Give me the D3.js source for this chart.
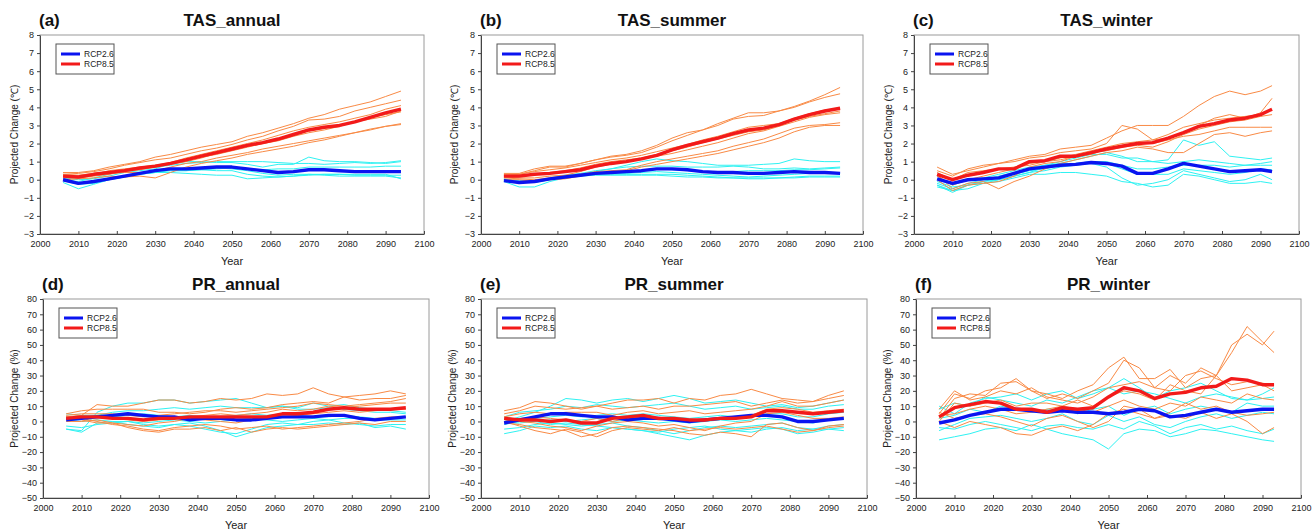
<!DOCTYPE html>
<html><head><meta charset="utf-8">
<script src="https://cdn.jsdelivr.net/npm/d3@7"></script>
<style>body{margin:0;background:#fff}svg{display:block}text{font-family:Arial,"Liberation Sans",sans-serif}</style>
</head><body>
<script>
// ---------- DATA ----------
const yearsFull = [2006,2010,2014,2018,2022,2026,2030,2034,2038,2042,2046,2050,2054,2058,2062,2066,2070,2074,2078,2082,2086,2090,2094];
const yearsWinter = [2006,2010,2014,2018,2022,2026,2030,2034,2038,2042,2046,2050,2054,2058,2062,2066,2070,2074,2078,2082,2086,2090,2093];
const xTicks = [2000,2010,2020,2030,2040,2050,2060,2070,2080,2090,2100];
const tasTicks = [-3,-2,-1,0,1,2,3,4,5,6,7,8];
const prTicks = [-50,-40,-30,-20,-10,0,10,20,30,40,50,60,70,80];
const legendLabels = ["RCP2.6","RCP8.5"];

// (a) TAS_annual
const tasAnnualMean26 = [0,-0.2,-0.1,0.05,0.2,0.35,0.5,0.6,0.6,0.65,0.7,0.7,0.6,0.5,0.4,0.45,0.55,0.55,0.5,0.45,0.45,0.45,0.45];
const tasAnnualMean85 = [0.2,0.15,0.3,0.4,0.5,0.65,0.75,0.9,1.1,1.3,1.5,1.7,1.9,2.05,2.25,2.5,2.75,2.9,3.0,3.2,3.45,3.7,3.9];
const tasAnnual26 = [
 [-0.15,-0.5,-0.25,0.0,0.15,0.3,0.4,0.55,0.6,0.6,0.65,0.6,0.5,0.35,0.25,0.3,0.3,0.25,0.2,0.2,0.2,0.2,0.1],
 [0.0,-0.1,0.1,0.3,0.5,0.6,0.7,0.8,0.9,0.95,1.0,1.0,1.0,1.0,0.95,0.9,0.9,0.85,0.9,0.95,0.9,0.95,1.05],
 [0.1,0.0,0.05,0.2,0.4,0.5,0.6,0.9,1.0,1.0,0.95,0.95,0.85,0.7,0.85,0.85,1.25,1.05,1.0,1.0,0.95,0.9,1.0],
 [0.0,-0.2,-0.1,0.1,0.2,0.35,0.4,0.5,0.5,0.55,0.6,0.65,0.6,0.55,0.6,0.6,0.7,0.7,0.7,0.7,0.7,0.75,0.75],
 [0.05,-0.15,-0.15,0.05,0.2,0.3,0.4,0.4,0.35,0.3,0.25,0.25,0.05,0.1,0.15,0.2,0.25,0.3,0.3,0.25,0.25,0.25,0.25],
 [-0.05,-0.25,-0.2,0.0,0.15,0.35,0.5,0.5,0.5,0.55,0.5,0.5,0.3,0.2,0.15,0.2,0.3,0.3,0.3,0.3,0.3,0.3,0.05]
];
const tasAnnual85 = [
 [0.4,0.4,0.5,0.7,0.85,1.0,1.25,1.4,1.6,1.8,1.95,2.1,2.4,2.6,2.85,3.1,3.4,3.6,3.9,4.1,4.3,4.6,4.9],
 [0.3,0.35,0.45,0.6,0.8,0.95,1.1,1.2,1.4,1.6,1.75,1.95,2.2,2.4,2.7,2.95,3.3,3.35,3.5,3.8,4.0,4.2,4.4],
 [0.2,0.2,0.3,0.5,0.6,0.7,0.8,0.95,1.2,1.4,1.6,1.8,2.0,2.2,2.45,2.7,2.9,3.05,3.2,3.4,3.6,3.9,4.1],
 [0.3,0.25,0.35,0.45,0.55,0.6,0.75,0.9,1.1,1.25,1.4,1.6,1.8,2.0,2.2,2.45,2.7,2.85,3.0,3.2,3.45,3.6,3.75],
 [0.1,0.1,0.2,0.3,0.45,0.55,0.7,0.85,1.0,1.2,1.45,1.65,1.85,2.0,2.15,2.4,2.6,2.75,2.95,3.2,3.35,3.5,3.8],
 [0.2,0.1,0.25,0.35,0.4,0.4,0.5,0.7,0.9,1.0,1.2,1.35,1.5,1.7,1.85,2.0,2.15,2.3,2.45,2.6,2.75,2.95,3.1],
 [0.0,0.05,0.1,0.2,0.15,0.2,0.1,0.4,0.7,0.9,1.05,1.2,1.4,1.55,1.7,1.85,2.05,2.2,2.4,2.6,2.8,2.95,3.05]
];

// (b) TAS_summer
const tasSummerMean26 = [-0.05,-0.15,-0.1,0.05,0.15,0.25,0.35,0.4,0.45,0.5,0.6,0.6,0.55,0.45,0.4,0.4,0.35,0.35,0.4,0.45,0.4,0.4,0.35];
const tasSummerMean85 = [0.2,0.2,0.3,0.35,0.45,0.55,0.75,0.9,1.0,1.15,1.35,1.65,1.9,2.1,2.3,2.55,2.75,2.85,3.05,3.35,3.6,3.8,3.95];
const tasSummer26 = [
 [-0.1,-0.4,-0.4,-0.1,0.1,0.3,0.45,0.6,0.8,1.0,1.15,1.05,1.0,0.9,0.8,0.8,0.8,0.85,0.9,1.15,1.05,1.0,1.0],
 [0.0,-0.2,-0.1,0.1,0.25,0.35,0.5,0.6,0.7,0.75,0.75,0.75,0.7,0.7,0.7,0.75,0.7,0.6,0.6,0.65,0.6,0.65,0.7],
 [0.05,-0.1,-0.15,0.0,0.2,0.3,0.35,0.45,0.45,0.5,0.6,0.55,0.5,0.45,0.4,0.45,0.5,0.5,0.5,0.55,0.55,0.6,0.65],
 [0.0,-0.1,-0.1,0.05,0.15,0.25,0.3,0.35,0.35,0.4,0.45,0.4,0.35,0.3,0.25,0.2,0.15,0.2,0.25,0.3,0.35,0.35,0.35],
 [-0.05,-0.15,-0.15,0.0,0.15,0.25,0.3,0.3,0.3,0.3,0.3,0.3,0.25,0.2,0.15,0.1,0.05,0.05,0.1,0.15,0.2,0.2,0.2],
 [0.0,-0.05,-0.05,0.05,0.15,0.2,0.25,0.25,0.25,0.25,0.25,0.2,0.15,0.15,0.1,0.1,0.1,0.1,0.1,0.1,0.15,0.15,0.15]
];
const tasSummer85 = [
 [0.35,0.35,0.6,0.75,0.75,0.9,1.1,1.3,1.4,1.6,1.9,2.3,2.6,2.75,3.1,3.4,3.7,3.7,3.8,4.05,4.35,4.7,5.1],
 [0.3,0.3,0.5,0.7,0.7,0.9,1.1,1.25,1.35,1.5,1.8,2.15,2.45,2.75,3.0,3.35,3.5,3.55,3.8,4.0,4.3,4.55,4.75],
 [0.25,0.3,0.45,0.55,0.65,0.8,0.95,1.1,1.2,1.35,1.55,1.75,1.95,2.2,2.4,2.65,2.9,3.0,3.1,3.4,3.65,3.85,3.95],
 [0.2,0.25,0.3,0.4,0.5,0.65,0.85,1.0,1.1,1.2,1.4,1.6,1.8,2.05,2.25,2.45,2.65,2.75,3.0,3.3,3.5,3.65,3.8],
 [0.15,0.1,0.1,0.2,0.25,0.45,0.7,0.85,1.0,1.15,1.3,1.45,1.65,1.85,2.05,2.3,2.55,2.7,2.95,3.2,3.45,3.6,3.7],
 [0.1,0.05,0.0,0.1,0.2,0.3,0.45,0.5,0.55,0.8,1.0,1.15,1.3,1.45,1.6,1.85,2.05,2.25,2.55,2.85,3.0,3.05,3.15],
 [0.0,0.0,-0.1,0.0,0.05,0.2,0.35,0.45,0.5,0.7,0.85,1.0,1.15,1.3,1.45,1.65,1.85,2.05,2.3,2.65,2.9,3.0,3.0]
];

// (c) TAS_winter
const tasWinterMean26 = [0.05,-0.2,0.0,0.05,0.1,0.35,0.6,0.7,0.8,0.85,0.95,0.9,0.75,0.35,0.35,0.6,0.9,0.75,0.6,0.45,0.5,0.55,0.45];
const tasWinterMean85 = [0.3,0.0,0.25,0.4,0.6,0.6,1.0,1.05,1.3,1.3,1.5,1.7,1.85,2.0,2.05,2.3,2.6,2.95,3.1,3.3,3.4,3.6,3.9];
const tasWinter26 = [
 [-0.3,-0.7,-0.3,-0.1,0.0,0.2,0.4,0.7,0.9,1.1,1.3,1.5,1.3,1.0,1.0,1.1,2.2,1.9,2.1,1.3,1.2,1.1,1.2],
 [-0.2,-0.5,-0.2,0.0,0.2,0.4,0.6,0.8,1.0,1.2,1.4,1.4,1.2,1.2,1.0,0.9,1.0,1.1,1.0,0.9,0.8,0.9,1.0],
 [-0.3,-0.6,-0.3,-0.1,0.1,0.3,0.5,0.6,0.8,0.9,1.0,1.0,0.8,0.6,0.6,0.7,0.8,0.8,0.8,0.7,0.8,0.8,0.8],
 [0.2,-0.3,0.0,0.1,0.3,0.5,0.7,0.8,0.9,0.9,1.0,0.9,0.6,0.3,0.3,0.3,0.6,0.5,0.4,0.3,0.4,0.6,0.55],
 [-0.1,-0.4,-0.3,-0.2,0.0,0.2,0.4,0.5,0.7,0.8,0.9,0.7,0.1,-0.3,-0.2,0.0,0.5,0.3,0.1,-0.1,0.0,0.3,0.0],
 [-0.4,-0.6,-0.5,-0.2,-0.1,0.1,0.3,0.3,0.4,0.4,0.3,0.2,-0.1,-0.2,-0.4,-0.3,0.3,0.2,0.0,-0.2,-0.2,-0.1,-0.2]
];
const tasWinter85 = [
 [0.7,0.3,0.5,0.7,0.9,1.1,1.3,1.4,1.7,1.8,1.9,2.3,2.7,3.0,3.0,3.0,3.5,4.1,4.6,4.9,4.7,4.9,5.2],
 [0.5,0.2,0.6,0.8,0.9,1.0,1.2,1.3,1.5,1.6,1.7,2.0,3.0,2.8,2.2,2.3,2.6,3.0,3.4,3.6,3.4,3.7,4.5],
 [0.4,0.0,0.4,0.5,0.6,0.7,0.8,1.0,1.2,1.4,1.6,1.8,2.0,2.1,2.2,2.5,2.9,3.1,3.3,3.4,3.5,3.6,3.9],
 [0.2,-0.3,0.0,0.2,0.4,0.6,0.9,1.0,1.1,1.3,1.5,1.6,1.8,1.9,1.8,2.1,2.5,2.8,3.0,3.2,3.3,3.5,3.6],
 [0.0,-0.6,-0.3,-0.2,-0.1,0.2,0.7,0.9,1.0,1.3,1.4,1.7,1.9,2.0,2.0,2.2,2.4,2.5,2.7,2.9,2.9,2.9,2.9],
 [0.3,-0.5,-0.2,-0.1,-0.5,-0.1,0.2,0.6,0.9,1.1,1.3,1.5,1.6,1.8,1.7,1.5,1.5,2.0,2.5,2.6,2.4,2.6,2.7]
];

// (d) PR_annual
const prAnnualMean26 = [1,2,3,4,5,4,3,3,1,2,2,1,1,2,3,3,3,4,4,2,1,2,3];
const prAnnualMean85 = [2,3,3,2,2,1,2,2,3,3,3,3,3,3,5,5,6,8,9,8,8,8,9];
const prAnnual26 = [
 [-5,-6,6,10,12,12,14,14,12,13,14,15,12,9,10,9,12,10,11,9,8,7,6],
 [5,4,4,6,7,7,8,9,8,9,10,9,9,9,10,8,8,9,8,7,6,6,5],
 [3,2,3,3,4,5,4,3,4,3,3,4,5,4,5,4,3,3,4,3,2,2,3],
 [1,0,1,0,0,-1,0,1,0,-1,0,1,2,1,0,1,2,1,2,2,1,1,1],
 [-3,-4,-2,-1,0,-2,-3,-2,-3,-5,-7,-8,-5,-2,-1,-2,0,1,-1,-2,-3,-2,-2],
 [-5,-7,-1,0,-2,-3,-4,-2,-1,-3,-6,-10,-7,-4,-3,-2,-2,-1,-2,-1,-4,-3,-5]
];
const prAnnual85 = [
 [3,4,11,10,10,12,14,14,12,13,15,14,15,18,17,18,22,18,16,17,18,20,18],
 [5,7,8,8,8,8,6,6,5,6,8,9,8,9,11,12,13,12,16,14,15,15,17],
 [4,5,5,5,4,3,4,5,6,7,7,6,7,8,9,10,12,11,10,11,12,13,15],
 [2,3,3,2,1,0,1,2,3,4,5,4,5,6,8,7,8,10,9,10,11,12,12],
 [0,0,1,-1,-2,-3,-1,0,2,1,0,-1,1,2,3,4,5,6,7,6,7,8,8],
 [1,2,0,-2,-3,-5,-6,-4,-3,-2,-3,-5,-4,-3,-5,-4,-3,-2,-1,0,2,3,3],
 [3,1,-1,-1,-4,-6,-7,-5,-5,-4,-6,-4,-7,-5,-4,-5,-4,-3,-2,-1,-2,0,0]
];

// (e) PR_summer
const prSummerMean26 = [-1,1,3,5,5,4,3,3,1,2,2,1,0,1,2,3,4,4,3,0,0,1,2];
const prSummerMean85 = [2,1,1,0,1,-1,-1,2,3,4,2,2,1,1,2,2,3,7,7,6,5,6,7];
const prSummer26 = [
 [0,3,6,10,15,14,12,14,15,13,15,17,15,12,13,14,12,10,11,9,10,12,14],
 [3,6,7,8,10,9,11,10,9,10,11,12,10,8,9,10,8,9,10,8,8,10,11],
 [-2,0,2,3,4,3,4,5,4,5,4,3,2,3,4,3,4,5,5,3,3,5,6],
 [-1,-1,0,1,0,1,2,0,1,0,-1,0,-1,0,1,0,1,2,1,0,-1,1,2],
 [-5,-4,-2,-1,-2,-3,-2,-1,-3,-4,-6,-8,-6,-4,-3,-4,-3,-2,-1,-4,-5,-3,-2],
 [-8,-6,-3,-4,-3,-5,-6,-4,-5,-6,-8,-10,-12,-9,-7,-6,-5,-4,-5,-8,-7,-5,-4],
 [3,1,0,-2,-1,-2,-3,-4,-5,-6,-7,-5,-4,-3,-5,-6,-7,-5,-4,-6,-5,-5,-6]
];
const prSummer85 = [
 [7,9,13,12,10,8,10,12,14,14,15,12,15,14,17,18,21,18,15,14,13,17,20],
 [5,7,10,9,8,9,10,8,9,10,8,10,10,11,12,13,10,12,14,12,13,15,17],
 [3,5,6,5,6,6,6,4,6,7,5,6,7,5,6,7,8,10,13,10,10,12,14],
 [0,2,3,2,1,0,2,0,2,3,1,2,1,0,2,3,4,8,9,8,6,7,8],
 [2,0,-1,-3,-4,-6,-3,-1,0,-1,-3,-2,-4,-6,-3,-1,0,5,6,4,2,2,3],
 [-1,-2,-4,-5,-6,-10,-8,-4,-3,-4,-5,-6,-8,-9,-7,-8,-10,-2,-1,-4,-6,-3,-2],
 [0,-3,-6,-8,-5,-7,-10,-6,-4,-5,-6,-4,-6,-5,-4,-5,-4,-3,-5,-7,-6,-4,-3]
];

// (f) PR_winter
const prWinterMean26 = [-1,1,4,6,8,8,7,6,7,6,6,5,6,8,7,3,4,6,8,6,7,8,8];
const prWinterMean85 = [3,9,11,13,12,8,8,6,9,8,9,16,22,20,15,18,19,22,23,28,27,24,24];
const prWinter26 = [
 [10,5,12,15,16,18,14,18,20,15,18,22,28,22,15,20,22,25,20,15,14,18,22],
 [8,12,10,16,14,12,10,14,12,16,20,22,18,20,18,15,12,16,18,16,14,15,16],
 [2,4,8,6,10,8,6,8,8,5,8,10,4,8,10,5,8,10,8,6,12,10,10],
 [-6,-2,2,3,4,2,0,2,5,0,-2,4,0,3,-2,-4,0,3,5,2,4,6,5],
 [-4,-5,-2,0,-2,-4,-6,-3,-2,-4,-5,-2,-5,0,-3,-8,-4,-2,-5,-3,-6,-8,-5],
 [-12,-10,-8,-5,-4,-6,-2,-5,-8,-10,-12,-18,-8,-5,-6,-10,-8,-5,-6,-8,-10,-12,-13]
];
const prWinter85 = [
 [5,18,15,20,22,28,20,15,18,15,20,25,40,35,22,30,25,35,30,50,57,50,59],
 [2,15,18,17,25,26,20,18,15,20,24,35,42,28,28,34,22,28,30,45,62,52,45],
 [8,20,14,16,20,18,22,16,14,12,16,22,24,26,22,20,30,33,28,24,26,25,24],
 [0,12,10,12,14,10,12,12,10,14,10,16,20,18,14,24,20,18,30,20,22,24,20],
 [4,5,8,10,8,5,6,8,10,8,6,10,14,10,8,12,10,16,14,12,18,15,14],
 [6,2,4,5,3,0,-3,2,4,0,-4,0,10,8,2,6,12,8,10,6,4,5,6],
 [0,-4,0,-2,-4,-8,-9,-5,-3,-6,-2,5,8,5,2,4,2,6,2,5,0,-8,-4]
];

// ---------- CHART ----------
const W = 1316, H = 531;
const svg = d3.select("body").append("svg").attr("width", W).attr("height", H);

const tasLabel = "Projected Change (℃)";
const prLabel = "Projected Change (%)";

const panels = [
  {tag:"(a)", title:"TAS_annual", years:yearsFull, ticks:tasTicks, yLabel:tasLabel, m26:tasAnnual26, m85:tasAnnual85, a26:tasAnnualMean26, a85:tasAnnualMean85, box:[40,35,384,199], ylx:14},
  {tag:"(b)", title:"TAS_summer", years:yearsFull, ticks:tasTicks, yLabel:tasLabel, m26:tasSummer26, m85:tasSummer85, a26:tasSummerMean26, a85:tasSummerMean85, box:[481,35,382,199], ylx:454},
  {tag:"(c)", title:"TAS_winter", years:yearsWinter, ticks:tasTicks, yLabel:tasLabel, m26:tasWinter26, m85:tasWinter85, a26:tasWinterMean26, a85:tasWinterMean85, box:[914,35,385,199], ylx:888},
  {tag:"(d)", title:"PR_annual", years:yearsFull, ticks:prTicks, yLabel:prLabel, m26:prAnnual26, m85:prAnnual85, a26:prAnnualMean26, a85:prAnnualMean85, box:[43,299,386,199], ylx:14},
  {tag:"(e)", title:"PR_summer", years:yearsFull, ticks:prTicks, yLabel:prLabel, m26:prSummer26, m85:prSummer85, a26:prSummerMean26, a85:prSummerMean85, box:[481,299,386,199], ylx:452},
  {tag:"(f)", title:"PR_winter", years:yearsWinter, ticks:prTicks, yLabel:prLabel, m26:prWinter26, m85:prWinter85, a26:prWinterMean26, a85:prWinterMean85, box:[916,299,385,199], ylx:887}
];

const C_CYAN = "#2EF2F2", C_ORANGE = "#F98A45", C_BLUE = "#0A14F0", C_RED = "#F21A1A";

panels.forEach(p => {
  const [bx, by, bw, bh] = p.box;
  const x = d3.scaleLinear().domain([2000, 2100]).range([bx, bx + bw]);
  const y = d3.scaleLinear().domain([p.ticks[0], p.ticks[p.ticks.length-1]]).range([by + bh, by]);
  const g = svg.append("g");

  g.append("rect").attr("x", bx).attr("y", by).attr("width", bw).attr("height", bh)
    .attr("fill", "none").attr("stroke", "#9a9a9a").attr("stroke-width", 1);

  const line = d3.line().x((d, i) => x(p.years[i])).y(d => y(d));
  const lines = g.append("g");
  p.m26.forEach(s => lines.append("path").attr("d", line(s)).attr("fill","none").attr("stroke", C_CYAN).attr("stroke-width", 1));
  p.m85.forEach(s => lines.append("path").attr("d", line(s)).attr("fill","none").attr("stroke", C_ORANGE).attr("stroke-width", 1));
  lines.append("path").attr("d", line(p.a26)).attr("fill","none").attr("stroke", C_BLUE).attr("stroke-width", 3.4).attr("stroke-linejoin","round");
  lines.append("path").attr("d", line(p.a85)).attr("fill","none").attr("stroke", C_RED).attr("stroke-width", 3.4).attr("stroke-linejoin","round");

  const xa = g.append("g").attr("transform", `translate(0,${by + bh})`)
    .call(d3.axisBottom(x).tickValues(xTicks).tickSizeInner(-3).tickSizeOuter(0).tickPadding(7).tickFormat(d3.format("d")));
  const ya = g.append("g").attr("transform", `translate(${bx},0)`)
    .call(d3.axisLeft(y).tickValues(p.ticks).tickSizeInner(3).tickSizeOuter(0).tickPadding(3).tickFormat(d3.format("d")));
  [xa, ya].forEach(a => {
    a.select(".domain").attr("stroke", "#444");
    a.selectAll(".tick line").attr("stroke", "#444");
    a.selectAll(".tick text").attr("font-size", 9).attr("fill", "#222").attr("font-family", "Arial, 'Liberation Sans', sans-serif");
  });

  const lx = bx + 16, ly = by + 9;
  const lg = g.append("g");
  lg.append("rect").attr("x", lx).attr("y", ly).attr("width", 58).attr("height", 30)
    .attr("fill", "#fff").attr("stroke", "#555").attr("stroke-width", 1);
  [[C_BLUE, legendLabels[0]], [C_RED, legendLabels[1]]].forEach((d, i) => {
    const yy = ly + 10 + i * 10;
    lg.append("line").attr("x1", lx + 5).attr("x2", lx + 24).attr("y1", yy).attr("y2", yy)
      .attr("stroke", d[0]).attr("stroke-width", 3);
    lg.append("text").attr("x", lx + 28).attr("y", yy + 3).attr("font-size", 8.5).attr("fill", "#222").text(d[1]);
  });

  g.append("text").attr("x", bx - 1).attr("y", by - 9).attr("font-size", 17).attr("font-weight", "bold").attr("fill", "#111").text(p.tag);
  g.append("text").attr("x", bx + bw / 2).attr("y", by - 9).attr("text-anchor", "middle").attr("font-size", 17).attr("font-weight", "bold").attr("fill", "#111").text(p.title);

  g.append("text").attr("transform", `translate(${p.ylx},${by + bh / 2}) rotate(-90)`).attr("text-anchor", "middle")
    .attr("dy", "0.35em").attr("font-size", 10).attr("fill", "#222").text(p.yLabel);
  g.append("text").attr("x", bx + bw / 2).attr("y", by + bh + 31).attr("text-anchor", "middle").attr("font-size", 11).attr("fill", "#222").text("Year");
});
</script>
</body></html>
